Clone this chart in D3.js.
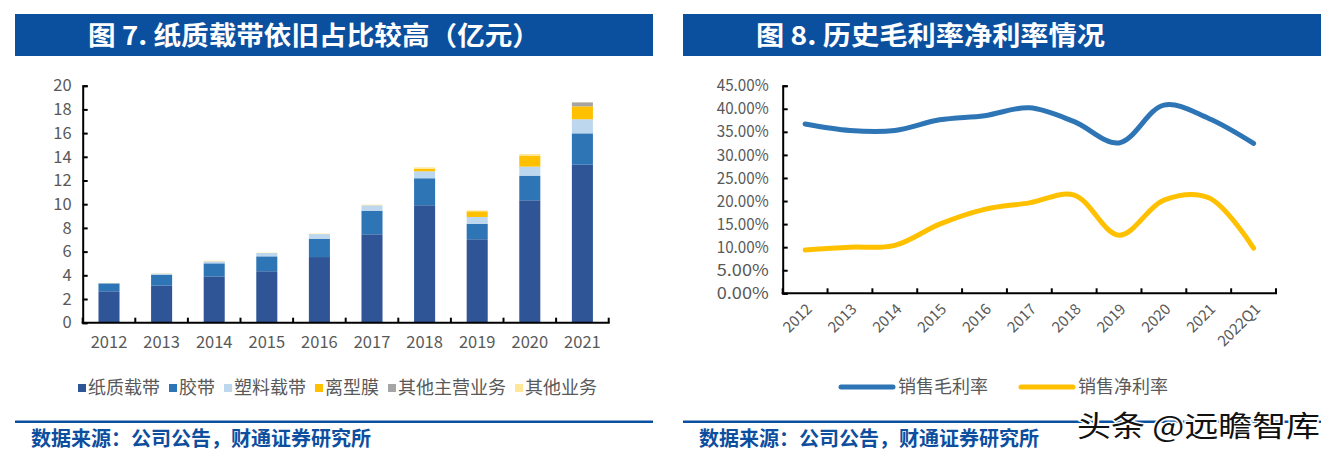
<!DOCTYPE html>
<html><head><meta charset="utf-8">
<script src="https://cdn.jsdelivr.net/npm/d3@7"></script>
<style>
html,body{margin:0;padding:0;background:#fff;}
svg{display:block;font-family:"Noto Sans CJK SC","Noto Sans",sans-serif;}
</style></head>
<body><svg id="c" width="1336" height="459"></svg>
<script>
// ---- data ----
const years = ["2012","2013","2014","2015","2016","2017","2018","2019","2020","2021"];
const seriesNames = ["纸质载带","胶带","塑料载带","离型膜","其他主营业务","其他业务"];
const paperTape   = [2.65,3.12,3.91,4.34,5.54,7.46,9.91,7.04,10.33,13.33];
const adhesiveTape= [0.67,0.93,1.10,1.26,1.55,1.99,2.28,1.31,2.08,2.65];
const plasticTape = [0.02,0.10,0.17,0.28,0.39,0.46,0.59,0.57,0.76,1.19];
const releaseFilm = [0,0,0,0,0,0,0.22,0.48,0.90,1.09];
const otherMain   = [0,0,0,0,0,0,0,0,0,0.34];
const otherBiz    = [0.02,0.03,0.05,0.03,0.04,0.05,0.11,0.08,0.17,0.02];
const yTicksLeft  = [0,2,4,6,8,10,12,14,16,18,20];

const periods = ["2012","2013","2014","2015","2016","2017","2018","2019","2020","2021","2022Q1"];
const grossMargin = [36.7,35.3,35.3,37.6,38.5,40.2,37.2,32.6,40.8,37.9,32.5];
const netMargin   = [9.4,10.0,10.4,15.0,18.2,19.6,21.3,12.6,20.2,20.7,9.8];
const lineNames = ["销售毛利率","销售净利率"];
const yTicksRight = [0,5,10,15,20,25,30,35,40,45];

const titleLeft = "图 7. 纸质载带依旧占比较高（亿元）";
const titleRight = "图 8. 历史毛利率净利率情况";
const sourceText = "数据来源：公司公告，财通证券研究所";
const watermark = "头条 @远瞻智库";

const barColors = ["#2F5597","#2E75B6","#BDD7EE","#FFC000","#A5A5A5","#FFE699"];
const lineColors = ["#2E75B6","#FFC000"];
const navy = "#0b4f9f";
const txt = "#595959";

const svg = d3.select("#c");

// ---- panel frames ----
function panel(x0, x1, title, tlen){
  svg.append("rect").attr("x",x0).attr("y",14).attr("width",x1-x0).attr("height",42).attr("fill",navy);
  svg.append("text").attr("x",x0+73).attr("y",45).attr("fill","#fff")
    .attr("font-size",26).attr("font-weight","bold")
    .attr("textLength",tlen).attr("lengthAdjust","spacingAndGlyphs").text(title);
  svg.append("rect").attr("x",x0).attr("y",420.5).attr("width",x1-x0).attr("height",2.5).attr("fill",navy);
  svg.append("text").attr("x",x0+16).attr("y",446).attr("fill","#0d4e9e")
    .attr("font-size",20).attr("font-weight","bold")
    .attr("textLength",340).attr("lengthAdjust","spacingAndGlyphs").text(sourceText);
}
panel(15,653,titleLeft,452);
panel(683,1321,titleRight,349);

// ---- left: stacked bars ----
const L = {x0:82.7, x1:608.7, y0:322.7, y1:85.7};
const xL = d3.scaleBand().domain(years).range([L.x0,L.x1]).paddingInner(0.6).paddingOuter(0.3);
const xLb = d3.scaleBand().domain(years).range([L.x0,L.x1]);
const yL = d3.scaleLinear().domain([0,20]).range([L.y0,L.y1]);
const stackData = years.map((y,i)=>({year:y, s0:paperTape[i], s1:adhesiveTape[i], s2:plasticTape[i], s3:releaseFilm[i], s4:otherMain[i], s5:otherBiz[i]}));
const stacked = d3.stack().keys(["s0","s1","s2","s3","s4","s5"])(stackData);
const gL = svg.append("g");
stacked.forEach((layer,k)=>{
  gL.append("g").selectAll("rect").data(layer).join("rect")
    .attr("x",d=>xL(d.data.year)).attr("width",xL.bandwidth())
    .attr("y",d=>yL(d[1])).attr("height",d=>Math.max(0,yL(d[0])-yL(d[1])))
    .attr("fill",barColors[k]);
});
// axes
const axYL = gL.append("g").attr("transform",`translate(${L.x0},0)`)
  .call(d3.axisRight(yL).tickValues(yTicksLeft).tickSize(5).tickFormat(""));
axYL.select(".domain").attr("stroke","#000").attr("stroke-width",2);
axYL.selectAll(".tick line").attr("stroke","#000").attr("stroke-width",2);
gL.append("g").selectAll("text").data(yTicksLeft).join("text")
  .attr("x",L.x0-11).attr("y",d=>yL(d)).attr("dy","0.35em").attr("text-anchor","end")
  .attr("fill",txt).attr("font-size",16.5).text(d=>d);
const bounds = years.map(y=>xLb(y)).concat([L.x1]);
gL.append("line").attr("x1",L.x0-1).attr("x2",L.x1+1).attr("y1",L.y0).attr("y2",L.y0).attr("stroke","#000").attr("stroke-width",2);
gL.append("g").selectAll("line").data(bounds).join("line")
  .attr("x1",d=>d).attr("x2",d=>d).attr("y1",L.y0).attr("y2",L.y0-5).attr("stroke","#000").attr("stroke-width",2);
gL.append("g").selectAll("text").data(years).join("text")
  .attr("x",d=>xLb(d)+xLb.bandwidth()/2).attr("y",348).attr("text-anchor","middle")
  .attr("fill",txt).attr("font-size",16.5).text(d=>d);
// legend left
const legL = svg.append("g");
let lx = 0;
seriesNames.forEach((n,i)=>{
  const g = legL.append("g").attr("transform",`translate(${lx},0)`);
  g.append("rect").attr("x",0).attr("y",-4).attr("width",8).attr("height",8).attr("fill",barColors[i]);
  const t = g.append("text").attr("x",10).attr("y",0).attr("dy","0.35em").attr("fill",txt).attr("font-size",18).text(n);
  const w = t.node().getComputedTextLength();
  lx += 10 + w + 9;
});
const legLW = lx-9;
legL.attr("transform",`translate(${337.5 - legLW/2},388)`);

// ---- right: lines ----
const R = {x0:782.7, x1:1276, y0:293.3, y1:85.7};
const xR = d3.scalePoint().domain(periods).range([R.x0,R.x1]).padding(0.5);
const xRb = d3.scaleBand().domain(periods).range([R.x0,R.x1]);
const yR = d3.scaleLinear().domain([0,45]).range([R.y0,R.y1]);
const gR = svg.append("g");
const axYR = gR.append("g").attr("transform",`translate(${R.x0},0)`)
  .call(d3.axisRight(yR).tickValues(yTicksRight).tickSize(5).tickFormat(""));
axYR.select(".domain").attr("stroke","#000").attr("stroke-width",2);
axYR.selectAll(".tick line").attr("stroke","#000").attr("stroke-width",2);
gR.append("g").selectAll("text").data(yTicksRight).join("text")
  .attr("x",R.x0-14).attr("y",d=>yR(d)).attr("dy","0.35em").attr("text-anchor","end")
  .attr("fill",txt).attr("font-size",16).attr("textLength",52).attr("lengthAdjust","spacingAndGlyphs")
  .text(d=>d.toFixed(2)+"%");
const bR = periods.map(p=>xRb(p)).concat([R.x1]);
gR.append("line").attr("x1",R.x0-1).attr("x2",R.x1+1).attr("y1",R.y0).attr("y2",R.y0).attr("stroke","#000").attr("stroke-width",2);
gR.append("g").selectAll("line").data(bR).join("line")
  .attr("x1",d=>d).attr("x2",d=>d).attr("y1",R.y0).attr("y2",R.y0-5).attr("stroke","#000").attr("stroke-width",2);
gR.append("g").selectAll("text").data(periods).join("text")
  .attr("transform",d=>`translate(${xR(d)+4},${R.y0+13}) rotate(-45)`)
  .attr("text-anchor","end").attr("dy","0.35em")
  .attr("fill",txt).attr("font-size",15).text(d=>d);
const line = d3.line().x(d=>d[0]).y(d=>d[1]).curve(d3.curveCatmullRom.alpha(0.5));
[grossMargin,netMargin].forEach((arr,k)=>{
  gR.append("path").attr("d",line(periods.map((p,i)=>[xR(p),yR(arr[i])])))
    .attr("fill","none").attr("stroke",lineColors[k]).attr("stroke-width",5).attr("stroke-linecap","round");
});
// legend right
const legR = svg.append("g").attr("transform","translate(0,387)");
const legRX = [841,1021];
lineNames.forEach((n,i)=>{
  const g = legR.append("g").attr("transform",`translate(${legRX[i]},0)`);
  g.append("line").attr("x1",0).attr("x2",52).attr("y1",0).attr("y2",0).attr("stroke",lineColors[i]).attr("stroke-width",5).attr("stroke-linecap","round");
  g.append("text").attr("x",57).attr("y",0).attr("dy","0.35em").attr("fill",txt).attr("font-size",18).text(n);
});

// watermark
svg.append("text").attr("x",1077).attr("y",437).attr("font-size",29)
  .attr("fill","#111").attr("stroke","#fff").attr("stroke-width",3).attr("paint-order","stroke")
  .attr("textLength",243).attr("lengthAdjust","spacingAndGlyphs").text(watermark);
</script>
</body></html>
